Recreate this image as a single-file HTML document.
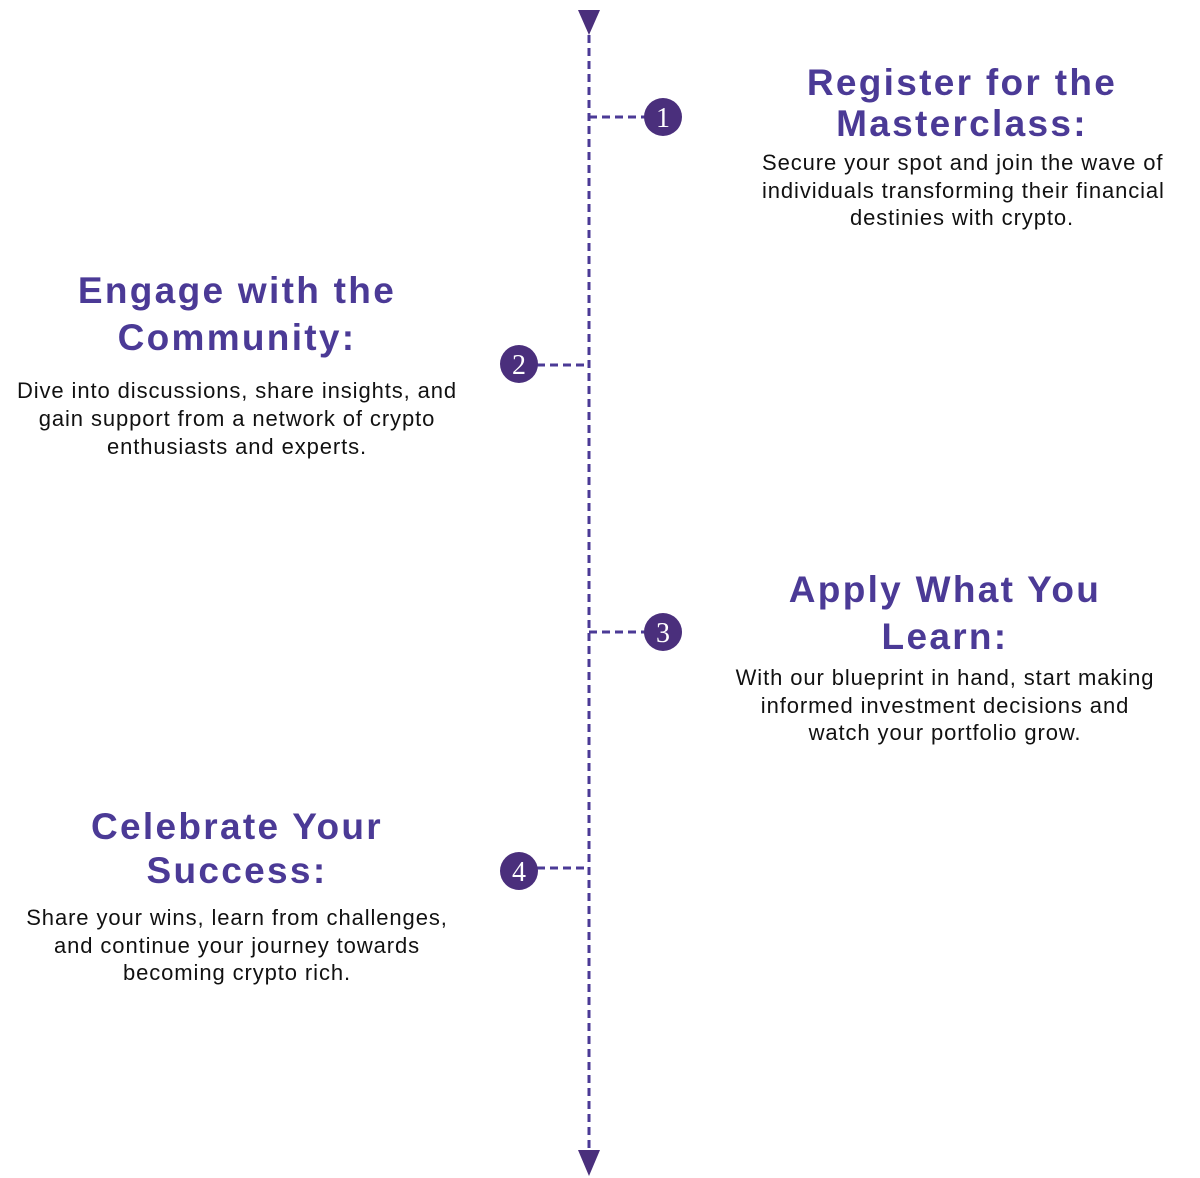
<!DOCTYPE html>
<html><head><meta charset="utf-8"><style>
body{margin:0;width:1200px;height:1178px;background:#fff;position:relative;overflow:hidden;font-family:"Liberation Sans",sans-serif}
.t{position:absolute;text-align:center;color:#4b3a96;font-weight:bold;font-size:37px;line-height:46px;letter-spacing:2.3px;white-space:nowrap}
.b{position:absolute;text-align:center;color:#111;font-size:22px;line-height:27.5px;letter-spacing:0.9px;white-space:nowrap}
</style></head><body>
<svg width="1200" height="1178" style="position:absolute;left:0;top:0">
<g stroke="#4b3a96" stroke-width="3" stroke-dasharray="8,5" fill="none">
<line x1="589" y1="35" x2="589" y2="1152"/>
<line x1="589" y1="117" x2="645" y2="117"/>
<line x1="537" y1="365" x2="589" y2="365"/>
<line x1="589" y1="632" x2="645" y2="632"/>
<line x1="537" y1="868" x2="589" y2="868"/>
</g>
<polygon points="578,10 600,10 589,35" fill="#4a2f7c"/>
<polygon points="578,1150 600,1150 589,1176" fill="#4a2f7c"/>
<g fill="#4a2f7c"><circle cx="663" cy="117" r="19"/><circle cx="519" cy="364" r="19"/><circle cx="663" cy="632" r="19"/><circle cx="519" cy="871" r="19"/></g>
<g fill="#fff" font-family="Liberation Serif,serif" font-size="28" text-anchor="middle">
<text x="663" y="127">1</text><text x="519" y="374">2</text><text x="663" y="642">3</text><text x="519" y="881">4</text></g>
</svg>
<div class="t" style="left:762px;width:400px;top:62px;line-height:41px">Register for the<br>Masterclass:</div>
<div class="b" style="left:762px;width:400px;top:149px">Secure your spot and join the wave of<br>individuals transforming their financial<br>destinies with crypto.</div>
<div class="t" style="left:0;width:474px;top:267px;line-height:47px">Engage with the<br>Community:</div>
<div class="b" style="left:0;width:474px;top:377px;line-height:28px">Dive into discussions, share insights, and<br>gain support from a network of crypto<br>enthusiasts and experts.</div>
<div class="t" style="left:725px;width:440px;top:566px;line-height:47px">Apply What You<br>Learn:</div>
<div class="b" style="left:725px;width:440px;top:664px">With our blueprint in hand, start making<br>informed investment decisions and<br>watch your portfolio grow.</div>
<div class="t" style="left:0;width:474px;top:805px;line-height:44px">Celebrate Your<br>Success:</div>
<div class="b" style="left:0;width:474px;top:904px">Share your wins, learn from challenges,<br>and continue your journey towards<br>becoming crypto rich.</div>
</body></html>
